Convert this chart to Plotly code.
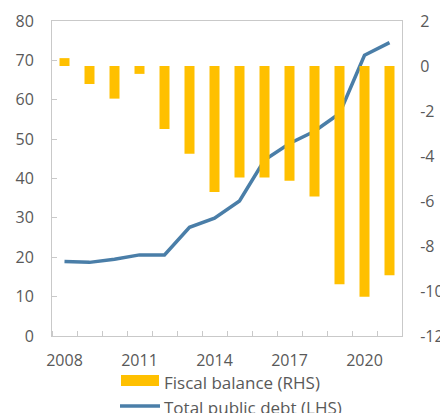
import plotly.graph_objects as go

# Annual series, 2008-2021
years = [2008, 2009, 2010, 2011, 2012, 2013, 2014, 2015, 2016, 2017, 2018, 2019, 2020, 2021]
fiscal_balance = [0.35, -0.8, -1.45, -0.35, -2.8, -3.9, -5.6, -4.95, -4.95, -5.1, -5.8, -9.7, -10.25, -9.3]
public_debt = [18.9, 18.7, 19.5, 20.6, 20.6, 27.6, 29.9, 34.3, 44.7, 48.9, 52.0, 56.5, 71.3, 74.5]

x_tick_years = [2008, 2011, 2014, 2017, 2020]
left_ticks = list(range(0, 81, 10))
right_ticks = list(range(-12, 3, 2))

bar_label = "Fiscal balance (RHS)"
line_label = "Total public debt (LHS)"

BAR_COLOR = "#FFC000"
LINE_COLOR = "#4A7EA8"
TEXT_COLOR = "#595959"
AXIS_COLOR = "#C9C9C9"
FONT = "Open Sans"

fig = go.Figure()

fig.add_trace(go.Bar(
    x=years, y=fiscal_balance, name=bar_label,
    marker=dict(color=BAR_COLOR, line=dict(width=0)),
    width=0.4, yaxis="y2", showlegend=False,
))

fig.add_trace(go.Scatter(
    x=years, y=public_debt, name=line_label, mode="lines",
    line=dict(color=LINE_COLOR, width=3.5), yaxis="y",
    showlegend=False,
))

fig.update_layout(
    width=440, height=413,
    margin=dict(l=52, r=38, t=21, b=77),
    paper_bgcolor="white", plot_bgcolor="white",
    font=dict(family=FONT, size=16, color=TEXT_COLOR),
    xaxis=dict(
        range=[years[0] - 0.5, years[-1] + 0.5],
        tickmode="array", tickvals=x_tick_years,
        ticktext=[str(y) for y in x_tick_years],
        ticks="", ticklabelstandoff=10, automargin=False,
        showline=True, linecolor=AXIS_COLOR, linewidth=1, mirror=True,
        showgrid=False, zeroline=False,
        minor=dict(tickmode="linear", tick0=years[0] - 0.5, dtick=1,
                   ticks="inside", ticklen=5, tickcolor=AXIS_COLOR, showgrid=False),
    ),
    yaxis=dict(
        range=[0, 80], tickmode="array", tickvals=left_ticks,
        ticks="inside", ticklen=5, tickcolor=AXIS_COLOR,
        ticklabelstandoff=14, automargin=False,
        showline=True, linecolor=AXIS_COLOR, linewidth=1,
        showgrid=False, zeroline=False,
    ),
    yaxis2=dict(
        range=[-12, 2], tickmode="array", tickvals=right_ticks,
        ticktext=[str(v).replace("\u2212", "-") for v in right_ticks],
        overlaying="y", side="right", ticks="",
        ticklabelstandoff=14, automargin=False,
        showline=True, linecolor=AXIS_COLOR, linewidth=1,
        showgrid=False, zeroline=False,
    ),
    shapes=[
        dict(type="rect", xref="paper", yref="paper",
             x0=(121 - 52) / 350, x1=(159 - 52) / 350,
             y0=(336 - 375) / 315, y1=(336 - 386) / 315,
             fillcolor=BAR_COLOR, line=dict(width=0)),
        dict(type="line", xref="paper", yref="paper",
             x0=(120 - 52) / 350, x1=(160 - 52) / 350,
             y0=(336 - 406) / 315, y1=(336 - 406) / 315,
             line=dict(color=LINE_COLOR, width=3.5)),
    ],
    annotations=[
        dict(text=bar_label, xref="paper", yref="paper",
             x=(162 - 52) / 350, y=(336 - 382) / 315,
             xanchor="left", yanchor="middle", showarrow=False,
             font=dict(family=FONT, size=17, color=TEXT_COLOR)),
        dict(text=line_label, xref="paper", yref="paper",
             x=(162 - 52) / 350, y=(336 - 407) / 315,
             xanchor="left", yanchor="middle", showarrow=False,
             font=dict(family=FONT, size=17, color=TEXT_COLOR)),
    ],
)

fig.write_html("out.html")
